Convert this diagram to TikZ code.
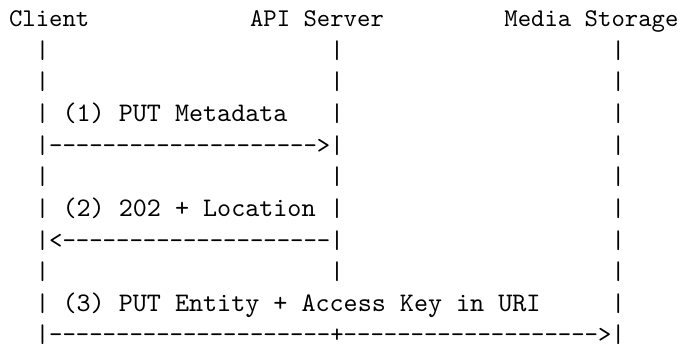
\documentclass[tikz,border=0pt]{standalone}
\newcommand{\dashes}[1]{\foreach \k in {1,...,#1}{-{}}}
\tikzset{
	ascii/.style={font=\ttfamily, inner sep=0pt, anchor=base west},
	msg/.style={ascii, font=\ttfamily\fontsize{10.5pt}{12pt}\selectfont}
}
\begin{document}
\begin{tikzpicture}[x=5.25pt, y=-12.4pt]
	\useasboundingbox (-0.635,-0.845) rectangle (50.23,10.07);

	\node[ascii] (client) at (0,0) {Client};
	\node[ascii] (api) at (18,0) {API Server};
	\node[ascii] (storage) at (37,0) {Media Storage};

	% lifelines
	\foreach \row in {1,...,10} {
		\node[ascii] (c\row) at (2,\row) {|};
		\node[ascii] (s\row) at (45,\row) {|};
	}
	\foreach \row in {1,...,8} {
		\node[ascii] (a\row) at (24,\row) {|};
	}

	% messages
	\node[msg] (m1) at (4,3) {(1) PUT Metadata};
	\node[ascii] (r1) at (3,4) {\dashes{20}>};
	\node[msg] (m2) at (4,6) {(2) 202 + Location};
	\node[ascii] (r2) at (3,7) {<\dashes{20}};
	\node[msg] (m3) at (4,9) {(3) PUT Entity + Access Key in URI};
	\node[ascii] (r3) at (3,10) {\dashes{21}+\dashes{19}>};
\end{tikzpicture}
\end{document}
